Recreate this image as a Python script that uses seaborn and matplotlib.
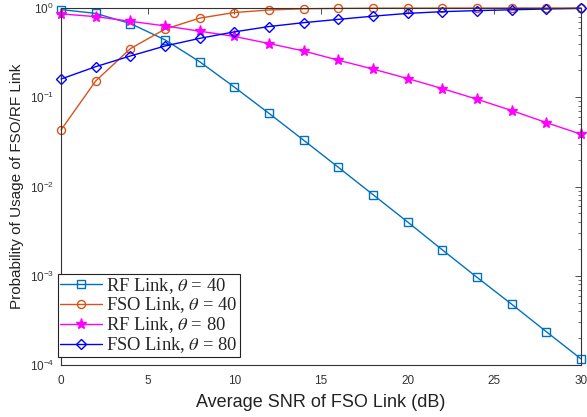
import numpy as np
import pandas as pd
import matplotlib
matplotlib.use("Agg")
import matplotlib.pyplot as plt
import seaborn as sns
from matplotlib.ticker import LogLocator, NullFormatter, FixedLocator

snr = [0, 2, 4, 6, 8, 10, 12, 14, 16, 18, 20, 22, 24, 26, 28, 30]
rf_40 = [0.96, 0.87, 0.67, 0.44, 0.25, 0.13, 0.066, 0.033, 0.0164, 0.0081,
         0.0040, 0.00195, 0.00096, 0.00048, 0.000236, 0.000117]
fso_40 = [0.043, 0.152, 0.35, 0.58, 0.77, 0.89, 0.95, 0.98, 0.99, 0.995,
          0.997, 0.998, 0.999, 0.999, 1.0, 1.0]
rf_80 = [0.86, 0.80, 0.71, 0.63, 0.55, 0.48, 0.40, 0.33, 0.26, 0.207,
         0.162, 0.125, 0.095, 0.071, 0.052, 0.0385]
fso_80 = [0.16, 0.22, 0.29, 0.375, 0.457, 0.54, 0.62, 0.685, 0.746, 0.81,
          0.87, 0.91, 0.935, 0.955, 0.975, 0.99]
labels = [r"RF Link, $\theta$ = 40", r"FSO Link, $\theta$ = 40",
          r"RF Link, $\theta$ = 80", r"FSO Link, $\theta$ = 80"]
xticks = [0, 5, 10, 15, 20, 25, 30]

sns.set_theme(style="white")
plt.rcParams['font.family'] = ['Liberation Sans', 'DejaVu Sans']
plt.rcParams['mathtext.fontset'] = 'stix'

fig = plt.figure(figsize=(5.87, 4.17), dpi=100)
ax = fig.add_axes([61/587, 1-365/417, 520/587, 357/417])

series = [rf_40, fso_40, rf_80, fso_80]
colors = ['#0072BD', '#D95319', '#FF00FF', '#0000FF']
markers = ['s', 'o', '*', 'D']
msizes = [5.5, 5.8, 8, 5]
for vals, lab, c, m, ms in zip(series, labels, colors, markers, msizes):
    df = pd.DataFrame({'snr': snr, 'p': vals})
    face = c if m == '*' else 'none'
    sns.lineplot(data=df, x='snr', y='p', ax=ax, color=c, marker=m,
                 markersize=ms, markerfacecolor=face, markeredgecolor=c,
                 markeredgewidth=1.0, linewidth=1.0, label=lab, clip_on=False)

ax.set_yscale('log')
ax.set_xlim(0, 30)
ax.set_ylim(1e-4, 1)
ax.xaxis.set_major_locator(FixedLocator(xticks))
ax.yaxis.set_major_locator(LogLocator(base=10, numticks=10))
ax.yaxis.set_minor_locator(LogLocator(base=10, subs=np.arange(2, 10), numticks=10))
ax.yaxis.set_minor_formatter(NullFormatter())
ax.tick_params(which='both', direction='in', top=True, right=True,
               labelsize=8.5, labelcolor='#333333', color='#333333')
ax.tick_params(which='major', length=4, width=0.6)
ax.tick_params(which='minor', length=2.5, width=0.5)
ax.tick_params(axis='x', pad=7)
ax.tick_params(axis='y', pad=5)
for s in ax.spines.values():
    s.set_color('#333333')
    s.set_linewidth(0.8)
ax.set_xlabel('Average SNR of FSO Link (dB)', fontsize=13, color='#222222', labelpad=5)
ax.set_ylabel('Probability of Usage of FSO/RF Link', fontsize=11, color='#222222', labelpad=4)

leg = ax.legend(loc='lower left', bbox_to_anchor=(-0.017, 0.006), frameon=True,
                fancybox=False, edgecolor='#222222', framealpha=1,
                prop={'family': 'Liberation Serif', 'size': 13.3},
                borderpad=0.12, labelspacing=0.0, handlelength=2.3,
                handletextpad=0.2, borderaxespad=0.3)
leg.get_frame().set_linewidth(0.8)

fig.savefig('out.png', dpi=100)
